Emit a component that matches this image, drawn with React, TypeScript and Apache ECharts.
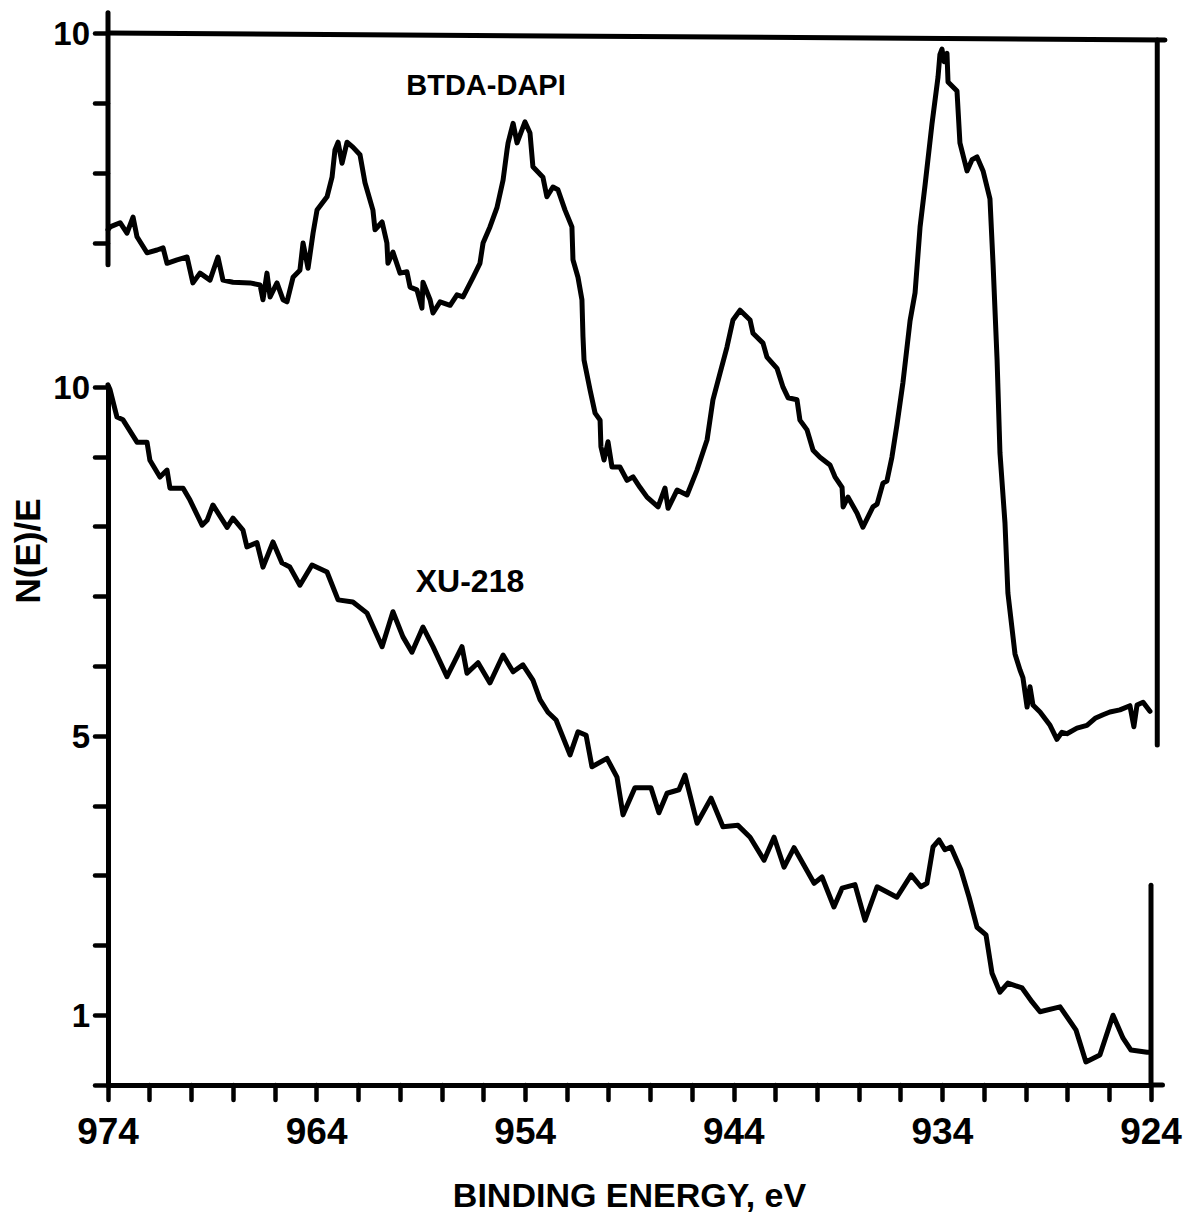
import React, { useEffect, useRef } from 'react';
import * as echarts from 'echarts';

// BTDA-DAPI (upper trace, own N(E)/E scale 0–10)
const btdaEnergy = [
  974.00, 973.90, 973.42, 973.09, 972.80, 972.61, 972.13, 971.65, 971.36, 971.17,
  970.69, 970.21, 969.93, 969.59, 969.11, 968.73, 968.49, 968.01, 967.19, 966.71,
  966.57, 966.38, 966.23, 965.90, 965.61, 965.42, 965.13, 964.80, 964.65, 964.41,
  964.17, 963.98, 963.50, 963.26, 963.12, 962.97, 962.78, 962.54, 962.26, 961.92,
  961.68, 961.30, 961.20, 960.86, 960.63, 960.58, 960.34, 960.00, 959.67, 959.52,
  959.19, 958.95, 958.90, 958.56, 958.42, 958.08, 957.60, 957.27, 956.98, 956.50,
  956.17, 956.02, 955.69, 955.35, 955.06, 954.87, 954.82, 954.58, 954.39, 954.01,
  953.77, 953.63, 953.15, 952.96, 952.67, 952.43, 952.09, 951.76, 951.71, 951.47,
  951.28, 951.23, 951.18, 950.89, 950.65, 950.41, 950.37, 950.22, 950.03, 949.84,
  949.46, 949.12, 948.83, 948.50, 948.16, 947.63, 947.30, 947.15, 946.72, 946.24,
  945.76, 945.28, 945.00, 944.66, 944.33, 944.04, 943.70, 943.22, 943.08, 942.60,
  942.41, 941.93, 941.64, 941.40, 940.97, 940.83, 940.49, 940.20, 939.87, 939.39,
  939.15, 938.81, 938.76, 938.53, 938.09, 937.81, 937.33, 937.13, 936.85, 936.66,
  936.42, 936.18, 935.89, 935.55, 935.31, 935.07, 934.83, 934.50, 934.21, 934.12,
  934.02, 933.92, 933.78, 933.73, 933.30, 933.16, 932.82, 932.58, 932.34, 932.05,
  931.72, 931.57, 931.38, 931.24, 931.00, 930.86, 930.52, 930.28, 930.14, 929.94,
  929.80, 929.66, 929.32, 928.84, 928.51, 928.27, 928.03, 927.55, 927.07, 926.68,
  926.30, 925.97, 925.49, 925.01, 924.82, 924.67, 924.38, 924.05,
];
const btdaIntensity = [
  7.19, 7.23, 7.29, 7.14, 7.37, 7.09, 6.86, 6.90, 6.93, 6.71,
  6.76, 6.80, 6.43, 6.57, 6.47, 6.80, 6.47, 6.44, 6.43, 6.40,
  6.19, 6.57, 6.23, 6.43, 6.19, 6.16, 6.51, 6.61, 7.00, 6.64,
  7.14, 7.47, 7.66, 7.94, 8.33, 8.44, 8.14, 8.44, 8.37, 8.26,
  7.86, 7.47, 7.19, 7.30, 7.00, 6.71, 6.87, 6.57, 6.59, 6.37,
  6.33, 6.07, 6.44, 6.19, 6.00, 6.16, 6.11, 6.26, 6.23, 6.51,
  6.71, 7.00, 7.23, 7.51, 7.90, 8.33, 8.43, 8.71, 8.43, 8.73,
  8.57, 8.09, 7.94, 7.66, 7.80, 7.76, 7.47, 7.23, 6.76, 6.51,
  6.19, 5.66, 5.33, 4.90, 4.57, 4.47, 4.09, 3.90, 4.16, 3.80,
  3.80, 3.61, 3.66, 3.51, 3.37, 3.23, 3.50, 3.21, 3.47, 3.40,
  3.76, 4.19, 4.76, 5.14, 5.51, 5.90, 6.04, 5.90, 5.71, 5.57,
  5.37, 5.21, 4.94, 4.79, 4.76, 4.47, 4.33, 4.04, 3.94, 3.83,
  3.66, 3.51, 3.23, 3.37, 3.14, 2.94, 3.23, 3.27, 3.57, 3.60,
  3.94, 4.40, 5.01, 5.89, 6.29, 7.23, 7.83, 8.70, 9.37, 9.69,
  9.77, 9.59, 9.71, 9.30, 9.17, 8.43, 8.03, 8.19, 8.23, 8.03,
  7.63, 6.69, 5.34, 4.00, 3.00, 2.00, 1.13, 0.90, 0.79, 0.37,
  0.66, 0.40, 0.30, 0.11, -0.09, 0.01, -0.01, 0.07, 0.11, 0.21,
  0.26, 0.30, 0.33, 0.39, 0.09, 0.40, 0.44, 0.31,
];

// XU-218 (lower trace, N(E)/E scale 0–10)
const xuEnergy = [
  974.00, 973.90, 973.57, 973.28, 972.61, 972.13, 971.99, 971.51, 971.17, 971.03,
  970.40, 970.07, 969.49, 969.25, 968.97, 968.29, 968.01, 967.53, 967.34, 966.86,
  966.57, 966.09, 965.66, 965.28, 964.80, 964.22, 963.50, 962.97, 962.26, 961.58,
  960.86, 960.34, 959.86, 959.43, 958.90, 958.42, 957.75, 957.03, 956.79, 956.26,
  955.69, 955.06, 954.58, 954.11, 953.63, 953.29, 952.91, 952.52, 951.85, 951.47,
  951.08, 950.80, 950.08, 949.60, 949.31, 948.74, 947.97, 947.59, 947.20, 946.63,
  946.34, 945.76, 945.09, 944.52, 943.80, 943.22, 942.55, 942.07, 941.59, 941.11,
  940.15, 939.77, 939.20, 938.81, 938.19, 937.71, 937.13, 936.18, 935.50, 935.03,
  934.74, 934.45, 934.16, 933.88, 933.59, 933.11, 932.72, 932.34, 931.91, 931.62,
  931.24, 930.86, 930.18, 929.70, 929.32, 928.36, 927.60, 927.12, 926.45, 925.82,
  925.34, 924.96, 924.19, 924.05,
];
const xuIntensity = [
  10.03, 9.96, 9.57, 9.53, 9.21, 9.21, 8.95, 8.71, 8.81, 8.55,
  8.55, 8.38, 8.02, 8.09, 8.31, 7.99, 8.12, 7.95, 7.71, 7.77,
  7.42, 7.78, 7.48, 7.42, 7.16, 7.45, 7.35, 6.95, 6.92, 6.76,
  6.28, 6.78, 6.42, 6.20, 6.56, 6.28, 5.85, 6.28, 5.90, 6.05,
  5.76, 6.16, 5.92, 6.02, 5.80, 5.52, 5.34, 5.23, 4.73, 5.06,
  5.01, 4.56, 4.68, 4.41, 3.87, 4.26, 4.26, 3.90, 4.18, 4.23,
  4.44, 3.75, 4.11, 3.70, 3.72, 3.55, 3.22, 3.55, 3.12, 3.40,
  2.89, 2.98, 2.55, 2.82, 2.87, 2.36, 2.84, 2.69, 3.01, 2.84,
  2.89, 3.41, 3.51, 3.37, 3.41, 3.08, 2.69, 2.26, 2.15, 1.60,
  1.33, 1.46, 1.39, 1.19, 1.05, 1.12, 0.79, 0.33, 0.43, 1.00,
  0.67, 0.50, 0.47, 0.47,
];

const energyLabels = [974, 964, 954, 944, 934, 924];
const lowerAxisLabels = [1, 5, 10];
const upperAxisTicks = [7, 8, 9, 10];
const upperAxisLabels = [10];

const FONT = 'Liberation Sans';
const INK = '#000';

export default function App() {
  const ref = useRef<HTMLDivElement>(null);

  useEffect(() => {
    const chart = echarts.init(ref.current as HTMLDivElement, null, { renderer: 'svg' });
    const thick = { color: INK, width: 5, cap: 'round' as const };
    const tickStyle = { color: INK, width: 4.5, cap: 'round' as const };

    chart.setOption({
      animation: false,
      backgroundColor: '#fff',
      grid: [
        { left: 108, right: 35, top: 387, bottom: 131, outerBoundsMode: 'none' },
        { left: 108, right: 35, top: 33, bottom: 483, outerBoundsMode: 'none' },
      ],
      xAxis: [
        {
          type: 'value', gridIndex: 0, min: 924, max: 974, interval: 2, inverse: true,
          axisLine: { show: true, lineStyle: thick },
          axisTick: { show: true, length: 15, lineStyle: tickStyle },
          axisLabel: {
            customValues: energyLabels, margin: 28, color: INK,
            fontFamily: FONT, fontWeight: 'bold', fontSize: 37,
          },
          splitLine: { show: false },
          name: 'BINDING ENERGY, eV', nameLocation: 'middle', nameGap: 93,
          nameTextStyle: { color: INK, fontFamily: FONT, fontWeight: 'bold', fontSize: 34 },
        },
        {
          type: 'value', gridIndex: 1, min: 924, max: 974, inverse: true, show: false,
        },
      ],
      yAxis: [
        {
          type: 'value', gridIndex: 0, min: 0, max: 10, interval: 1,
          axisLine: { show: true, lineStyle: thick },
          axisTick: { show: true, length: 13, lineStyle: tickStyle },
          axisLabel: {
            customValues: lowerAxisLabels, margin: 18, color: INK,
            fontFamily: FONT, fontWeight: 'bold', fontSize: 33,
          },
          splitLine: { show: false },
        },
        {
          type: 'value', gridIndex: 1, min: 0, max: 10, interval: 1,
          axisLine: { show: false },
          axisTick: { show: true, customValues: upperAxisTicks, length: 13, lineStyle: tickStyle },
          axisLabel: {
            customValues: upperAxisLabels, margin: 18, color: INK,
            fontFamily: FONT, fontWeight: 'bold', fontSize: 33,
          },
          splitLine: { show: false },
        },
      ],
      series: [
        {
          name: 'XU-218', type: 'line', xAxisIndex: 0, yAxisIndex: 0,
          data: xuEnergy.map((e, i) => [e, xuIntensity[i]]),
          symbol: 'none', clip: false,
          lineStyle: { color: INK, width: 5, join: 'round', cap: 'round' },
        },
        {
          name: 'BTDA-DAPI', type: 'line', xAxisIndex: 1, yAxisIndex: 1,
          data: btdaEnergy.map((e, i) => [e, btdaIntensity[i]]),
          symbol: 'none', clip: false,
          lineStyle: { color: INK, width: 5, join: 'round', cap: 'round' },
        },
      ],
    });

    const px = (g: number, pt: number[]) => chart.convertToPixel({ gridIndex: g }, pt) as number[];
    const seg = (a: number[], b: number[]) => ({
      type: 'line', silent: true,
      shape: { x1: a[0], y1: a[1], x2: b[0], y2: b[1] },
      style: { stroke: INK, lineWidth: 5, lineCap: 'round' },
    });

    const note = (text: string, x: number, y: number, size: number) => ({
      type: 'text', silent: true, x, y,
      style: {
        text, fill: INK, font: `bold ${size}px "${FONT}"`,
        align: 'center', verticalAlign: 'middle',
      },
    });

    chart.setOption({
      graphic: [
        // upper trace's own axis segment and frame
        seg(px(1, [974, 10.29]), px(1, [974, 6.69])),
        seg(px(1, [974, 10.0]), px(1, [923.33, 9.9])),
        seg(px(1, [923.7, 9.9]), px(1, [923.7, -0.17])),
        // lower trace's right edge
        seg(px(0, [924, 2.86]), px(0, [924, 0])),
        seg(px(0, [924, 0]), px(0, [923.45, 0])),
        note('BTDA-DAPI', 486, 85, 29),
        note('XU-218', 470, 581, 32),
        {
          type: 'text', silent: true, x: 27, y: 551, rotation: Math.PI / 2,
          style: {
            text: 'N(E)/E', fill: INK, font: `bold 35px "${FONT}"`,
            align: 'center', verticalAlign: 'middle',
          },
        },
      ],
    });

    return () => chart.dispose();
  }, []);

  return (
    <div
      ref={ref}
      style={{ position: 'absolute', left: 0, top: 0, width: 1186, height: 1216, background: '#fff' }}
    />
  );
}
